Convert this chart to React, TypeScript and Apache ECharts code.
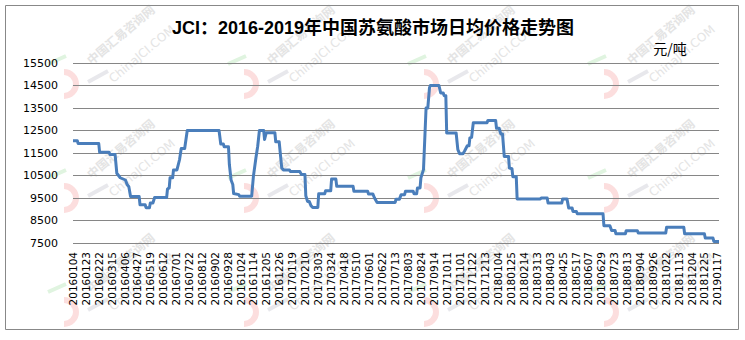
import React, { useEffect, useRef } from "react";
import * as echarts from "echarts";

// x-axis tick labels (one every 15 trading days)
const tickLabels = [
  "20160104", "20160123", "20160222", "20160315", "20160406", "20160427", "20160519", "20160612",
  "20160701", "20160722", "20160812", "20160902", "20160928", "20161024", "20161114", "20161205",
  "20161226", "20170119", "20170210", "20170303", "20170324", "20170418", "20170510", "20170601",
  "20170622", "20170713", "20170803", "20170824", "20170914", "20171011", "20171101", "20171122",
  "20171213", "20180104", "20180125", "20180214", "20180313", "20180403", "20180425", "20180517",
  "20180607", "20180629", "20180723", "20180813", "20180904", "20180926", "20181022", "20181113",
  "20181204", "20181225", "20190117",
];
const labelEvery = 15;
const lastDay = 752;

// trading-day index of each price change
const dayIndex = [
  0, 5, 6, 30, 31, 42, 43, 49, 51, 55, 61, 63, 65, 67, 77, 78, 84, 85, 89, 90, 93, 95,
  109, 110, 112, 113, 116, 117, 121, 124, 126, 130, 133, 170, 172, 175, 176, 181, 182, 184,
  186, 187, 193, 194, 208, 210, 213, 215, 217, 222, 223, 225, 235, 236, 240, 243, 245, 252,
  253, 264, 266, 270, 271, 273, 275, 277, 279, 285, 286, 293, 294, 300, 301, 306, 307, 326,
  327, 343, 344, 349, 351, 354, 375, 376, 380, 382, 386, 387, 396, 397, 400, 401, 404, 405,
  408, 411, 413, 415, 416, 426, 428, 431, 432, 434, 435, 446, 448, 450, 454, 456, 459, 461,
  462, 464, 466, 482, 483, 492, 493, 496, 498, 500, 502, 507, 508, 511, 512, 516, 517, 544,
  545, 552, 553, 569, 570, 575, 577, 581, 582, 586, 587, 617, 618, 625, 627, 631, 632, 643,
  644, 657, 658, 690, 691, 711, 712, 735, 736, 745, 746, 752,
];
// price (元/吨) at each of those points
const price = [
  12050, 12050, 11920, 11920, 11530, 11530, 11430, 11430, 10600, 10400, 10300, 10100, 10000, 9570, 9570, 9200, 9200, 9070, 9070, 9280, 9280, 9520,
  9520, 9900, 9950, 10400, 10400, 10750, 10750, 11200, 11700, 11700, 12500, 12500, 11900, 11900, 11780, 11780, 11000, 10300,
  10100, 9700, 9650, 9580, 9580, 10460, 11300, 11800, 12500, 12500, 12100, 12400, 12400, 12000, 12000, 10830, 10750, 10750,
  10680, 10680, 10540, 10540, 9600, 9350, 9350, 9160, 9080, 9080, 9690, 9690, 9820, 9820, 10340, 10340, 10020, 10020,
  9800, 9800, 9680, 9680, 9500, 9300, 9300, 9450, 9450, 9650, 9650, 9800, 9800, 9690, 9690, 9950, 9950, 10400,
  10760, 13500, 13500, 14400, 14500, 14500, 14170, 14170, 14050, 14050, 12390, 12390, 11650, 11470, 11470, 11600, 11820, 11820,
  12170, 12200, 12850, 12850, 12950, 12950, 12600, 12600, 12350, 12350, 11350, 11350, 10830, 10800, 10450, 10450, 9460, 9460,
  9500, 9500, 9280, 9280, 9460, 9460, 9060, 9060, 8900, 8900, 8800, 8800, 8270, 8270, 8060, 8060, 7910, 7910,
  8045, 8045, 7944, 7944, 8200, 8200, 7910, 7910, 7720, 7720, 7570, 7570,
];

const yMin = 7500;
const yMax = 15500;
const yStep = 1000;

const titleText = "JCI：2016-2019年中国苏氨酸市场日均价格走势图";
const unitText = "元/吨";
const wmTextCn = "中国汇易咨询网";
const wmTextEn = "ChinaJCI.COM";

const wmRows = [34, 148, 262];
const wmCols = [120, 300, 480, 660];

function watermark(cx: number, cy: number) {
  return {
    type: "group",
    z: 0,
    silent: true,
    children: [
      {
        type: "arc",
        shape: { cx: cx - 56, cy: cy + 50, r: 12, startAngle: -Math.PI / 2, endAngle: Math.PI / 2 },
        style: { stroke: "#fcdede", lineWidth: 6, fill: "none" },
      },
      {
        type: "line",
        shape: { x1: cx - 72, y1: cy + 30, x2: cx - 54, y2: cy + 22 },
        style: { stroke: "#e0f4e0", lineWidth: 4 },
      },
      {
        type: "line",
        shape: { x1: cx - 32, y1: cy + 48, x2: cx - 12, y2: cy + 37 },
        style: { stroke: "#e8e8ec", lineWidth: 4 },
      },
      {
        type: "text",
        x: cx,
        y: cy,
        rotation: 0.7,
        style: {
          text: wmTextCn,
          x: 0,
          y: 0,
          align: "center",
          verticalAlign: "middle",
          fontSize: 12,
          fontWeight: "bold",
          fontFamily: "'Noto Sans CJK SC'",
          fill: "#e4e4e4",
        },
      },
      {
        type: "text",
        x: cx + 22,
        y: cy + 20,
        rotation: 0.7,
        style: {
          text: wmTextEn,
          x: 0,
          y: 0,
          align: "center",
          verticalAlign: "middle",
          fontSize: 12,
          fontFamily: "'DejaVu Sans'",
          fill: "#e4e4e4",
        },
      },
    ],
  };
}

export default function App() {
  const ref = useRef<HTMLDivElement>(null);

  useEffect(() => {
    document.body.style.margin = "0";
    const chart = echarts.init(ref.current!, null, { renderer: "svg" });
    const marks: any[] = [];
    wmRows.forEach((r) => wmCols.forEach((c) => marks.push(watermark(c, r))));

    chart.setOption({
      animation: false,
      backgroundColor: "#ffffff",
      grid: { left: 73, right: 26, top: 63, bottom: 97 },
      graphic: [
        ...marks,
        {
          type: "rect",
          z: 1,
          silent: true,
          shape: { x: 5.5, y: 5.5, width: 733, height: 324 },
          style: { fill: "none", stroke: "#888888", lineWidth: 1 },
        },
        {
          type: "text",
          z: 5,
          x: 373,
          y: 28,
          style: {
            text: titleText,
            align: "center",
            verticalAlign: "middle",
            fontSize: 18,
            fontWeight: "bold",
            fontFamily: "'Liberation Sans', 'Noto Sans CJK SC'",
            fill: "#000",
          },
        },
        {
          type: "text",
          z: 5,
          x: 670,
          y: 48,
          style: {
            text: unitText,
            align: "center",
            verticalAlign: "middle",
            fontSize: 14,
            fontFamily: "'Noto Sans CJK SC'",
            fill: "#000",
          },
        },
      ],
      xAxis: {
        type: "value",
        min: 0,
        max: lastDay,
        interval: labelEvery,
        axisLine: { show: false },
        axisTick: { show: false },
        splitLine: { show: false },
        axisLabel: {
          rotate: 90,
          margin: 9,
          fontSize: 10.5,
          fontFamily: "'DejaVu Sans'",
          color: "#000",
          formatter: (v: number) =>
            v % labelEvery === 0 ? tickLabels[v / labelEvery] ?? "" : "",
        },
      },
      yAxis: {
        type: "value",
        min: yMin,
        max: yMax,
        interval: yStep,
        axisLine: { show: false },
        axisTick: { show: false },
        splitLine: { lineStyle: { color: "#868686", width: 1 } },
        axisLabel: {
          margin: 15,
          fontSize: 11,
          fontFamily: "'DejaVu Sans'",
          color: "#000",
          formatter: (v: number) => String(v),
        },
      },
      series: [
        {
          type: "line",
          z: 3,
          data: dayIndex.map((d, i) => [d, price[i]]),
          showSymbol: false,
          lineStyle: { color: "#4a7ebb", width: 3, join: "round" },
          itemStyle: { color: "#4a7ebb" },
        },
      ],
    });
    return () => chart.dispose();
  }, []);

  return <div ref={ref} style={{ width: 745, height: 340, background: "#fff" }} />;
}
